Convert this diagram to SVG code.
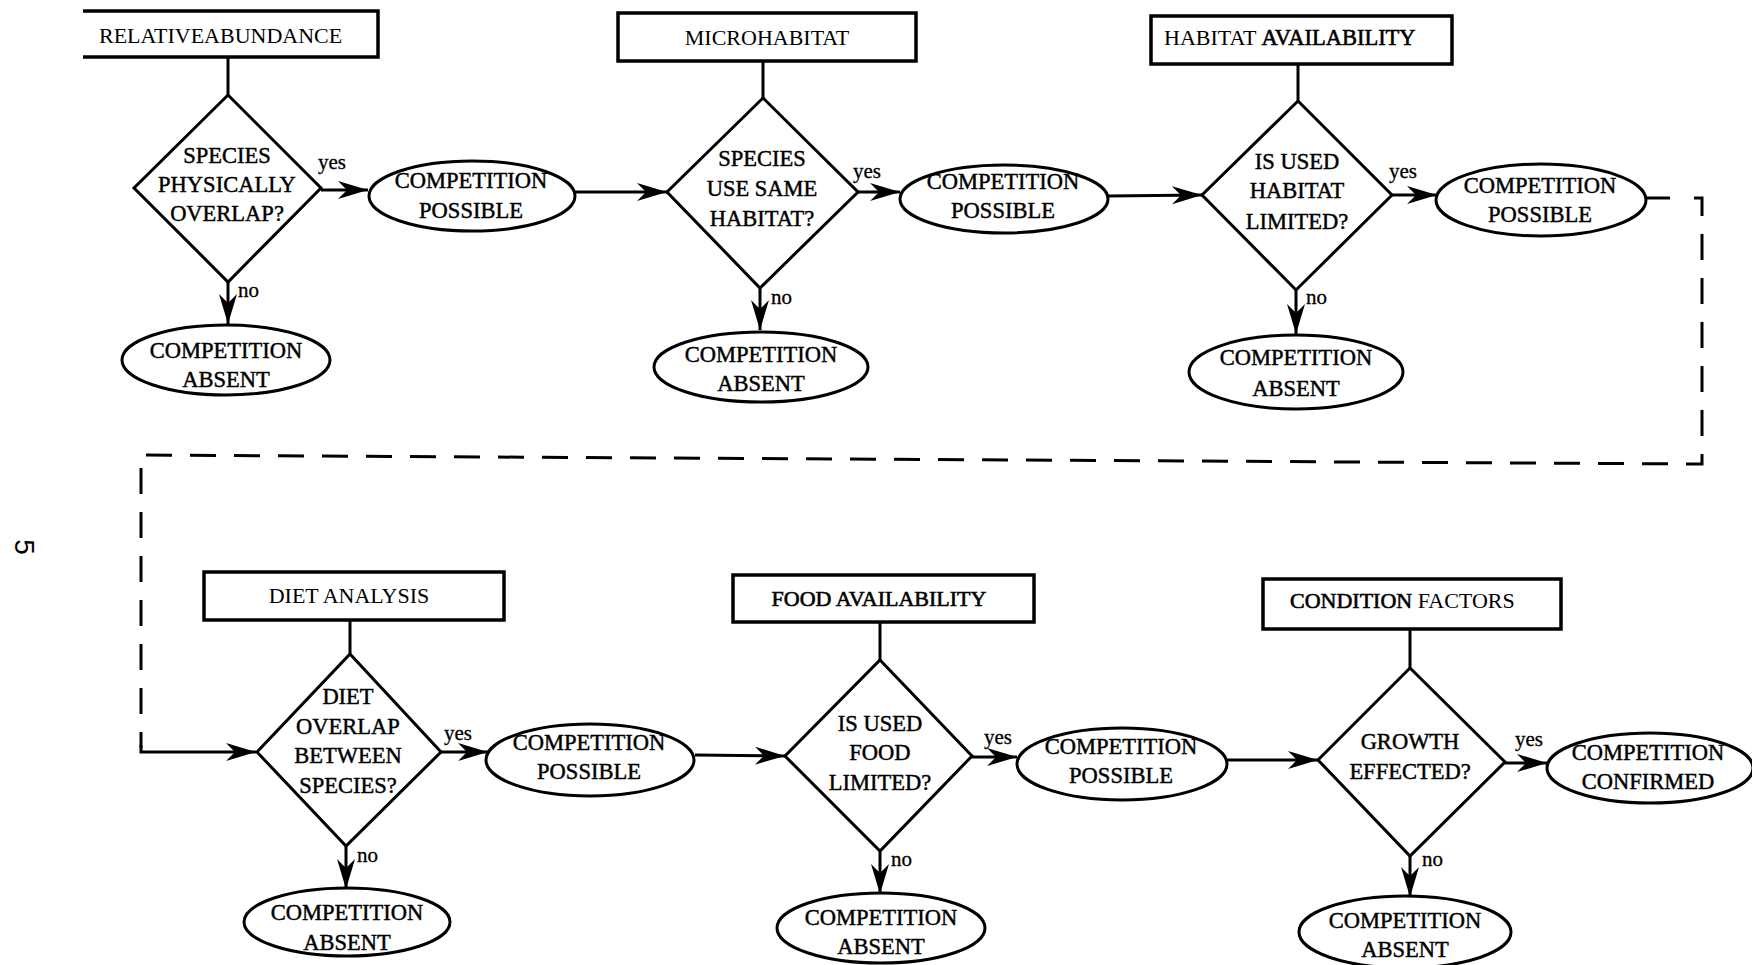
<svg xmlns="http://www.w3.org/2000/svg" width="1752" height="965" viewBox="0 0 1752 965">
<style>
.bg{fill:#fff}
.shape{fill:#fff;stroke:#000;stroke-width:3}
.box{fill:none;stroke:#000;stroke-width:3.5}
.ln{fill:none;stroke:#000;stroke-width:3}
.dash{fill:none;stroke:#000;stroke-width:3;stroke-dasharray:26 18}
.t{font-family:"Liberation Serif","Times New Roman",serif;font-size:22.5px;text-anchor:middle;fill:#000;stroke:#000;stroke-width:0.45}
.bt{font-family:"Liberation Serif","Times New Roman",serif;font-size:22px;fill:#000}
.hv{stroke:#000;stroke-width:0.6}
.lbl{font-family:"Liberation Serif","Times New Roman",serif;font-size:21px;fill:#000;stroke:#000;stroke-width:0.3}
</style>
<defs>
<marker id="ah" markerUnits="userSpaceOnUse" viewBox="-32 -10 34 20" markerWidth="34" markerHeight="20" refX="0" refY="0" orient="auto">
<path d="M0,0 L-30,-9 L-21,0 L-30,9 Z" fill="#000"/>
</marker>
</defs>
<rect class="bg" x="0" y="0" width="1752" height="965"/>

<g id="connectors">
<line class="ln" x1="228" y1="57" x2="228" y2="95"/>
<line class="ln" x1="321" y1="190" x2="368" y2="190" marker-end="url(#ah)"/>
<line class="ln" x1="575" y1="192" x2="667" y2="192" marker-end="url(#ah)"/>
<line class="ln" x1="228" y1="282" x2="228" y2="324" marker-end="url(#ah)"/>
<line class="ln" x1="763" y1="61" x2="763" y2="98"/>
<line class="ln" x1="858" y1="192" x2="900" y2="192" marker-end="url(#ah)"/>
<line class="ln" x1="1108" y1="196" x2="1202" y2="195" marker-end="url(#ah)"/>
<line class="ln" x1="760" y1="288" x2="760" y2="330" marker-end="url(#ah)"/>
<line class="ln" x1="1298" y1="64" x2="1298" y2="101"/>
<line class="ln" x1="1392" y1="195" x2="1437" y2="195" marker-end="url(#ah)"/>
<line class="ln" x1="1296" y1="290" x2="1296" y2="334" marker-end="url(#ah)"/>
<line class="ln" x1="1646" y1="198" x2="1670" y2="198"/>
<path class="dash" d="M1694,198 H1702 V464 L141,455 V748"/>
<path class="ln" d="M141,745 V752 H256" marker-end="url(#ah)"/>
<line class="ln" x1="350" y1="620" x2="350" y2="654"/>
<line class="ln" x1="441" y1="752" x2="488" y2="752" marker-end="url(#ah)"/>
<line class="ln" x1="695" y1="755" x2="785" y2="756" marker-end="url(#ah)"/>
<line class="ln" x1="346" y1="846" x2="346" y2="889" marker-end="url(#ah)"/>
<line class="ln" x1="880" y1="622" x2="880" y2="660"/>
<line class="ln" x1="972" y1="757" x2="1017" y2="757" marker-end="url(#ah)"/>
<line class="ln" x1="1227" y1="760" x2="1318" y2="760" marker-end="url(#ah)"/>
<line class="ln" x1="880" y1="851" x2="880" y2="894" marker-end="url(#ah)"/>
<line class="ln" x1="1410" y1="629" x2="1410" y2="668"/>
<line class="ln" x1="1505" y1="763" x2="1547" y2="763" marker-end="url(#ah)"/>
<line class="ln" x1="1410" y1="856" x2="1410" y2="897" marker-end="url(#ah)"/>
<text class="lbl" x="318" y="169">yes</text>
<text class="lbl" x="238" y="297">no</text>
<text class="lbl" x="853" y="178">yes</text>
<text class="lbl" x="771" y="304">no</text>
<text class="lbl" x="1389" y="178">yes</text>
<text class="lbl" x="1306" y="304">no</text>
<text class="lbl" x="444" y="740">yes</text>
<text class="lbl" x="357" y="862">no</text>
<text class="lbl" x="984" y="744">yes</text>
<text class="lbl" x="891" y="866">no</text>
<text class="lbl" x="1515" y="746">yes</text>
<text class="lbl" x="1422" y="866">no</text>
</g>

<g id="n-relative-abundance">
<path class="box" d="M83,11 H378 V57 H83"/>
<text class="bt" x="99" y="43">RELATIVEABUNDANCE</text>
</g>
<g id="d-physically-overlap">
<polygon class="shape" points="228,95 321,188 228,282 134,188"/>
<text class="t" x="227" y="163">SPECIES</text>
<text class="t" x="227" y="192">PHYSICALLY</text>
<text class="t" x="227" y="221">OVERLAP?</text>
</g>
<g id="e-possible-1">
<ellipse class="shape" cx="472" cy="196" rx="103" ry="35"/>
<text class="t" x="471" y="188">COMPETITION</text>
<text class="t" x="471" y="218">POSSIBLE</text>
</g>
<g id="e-absent-1">
<ellipse class="shape" cx="226" cy="360" rx="104" ry="35"/>
<text class="t" x="226" y="358">COMPETITION</text>
<text class="t" x="226" y="387">ABSENT</text>
</g>

<g id="n-microhabitat">
<rect class="box" x="618" y="13" width="298" height="48"/>
<text class="bt" x="767" y="45" text-anchor="middle">MICROHABITAT</text>
</g>
<g id="d-same-habitat">
<polygon class="shape" points="763,98 858,192 760,288 667,192"/>
<text class="t" x="762" y="166">SPECIES</text>
<text class="t" x="762" y="196">USE SAME</text>
<text class="t" x="762" y="226">HABITAT?</text>
</g>
<g id="e-possible-2">
<ellipse class="shape" cx="1004" cy="199" rx="104" ry="34"/>
<text class="t" x="1003" y="189">COMPETITION</text>
<text class="t" x="1003" y="218">POSSIBLE</text>
</g>
<g id="e-absent-2">
<ellipse class="shape" cx="761" cy="367" rx="107" ry="35"/>
<text class="t" x="761" y="362">COMPETITION</text>
<text class="t" x="761" y="391">ABSENT</text>
</g>

<g id="n-habitat-availability">
<rect class="box" x="1151" y="16" width="301" height="48"/>
<text class="bt" x="1164" y="45">HABITAT <tspan class="hv" font-size="22.5">AVAILABILITY</tspan></text>
</g>
<g id="d-habitat-limited">
<polygon class="shape" points="1298,101 1392,195 1296,290 1202,195"/>
<text class="t" x="1297" y="169">IS USED</text>
<text class="t" x="1297" y="198">HABITAT</text>
<text class="t" x="1297" y="229">LIMITED?</text>
</g>
<g id="e-possible-3">
<ellipse class="shape" cx="1541" cy="200" rx="105" ry="36"/>
<text class="t" x="1540" y="193">COMPETITION</text>
<text class="t" x="1540" y="222">POSSIBLE</text>
</g>
<g id="e-absent-3">
<ellipse class="shape" cx="1296" cy="372" rx="107" ry="37"/>
<text class="t" x="1296" y="365">COMPETITION</text>
<text class="t" x="1296" y="396">ABSENT</text>
</g>

<g id="n-diet-analysis">
<rect class="box" x="204" y="572" width="300" height="48"/>
<text class="bt" x="349" y="603" text-anchor="middle">DIET ANALYSIS</text>
</g>
<g id="d-diet-overlap">
<polygon class="shape" points="350,654 441,752 346,846 257,752"/>
<text class="t" x="348" y="704">DIET</text>
<text class="t" x="348" y="734">OVERLAP</text>
<text class="t" x="348" y="763">BETWEEN</text>
<text class="t" x="348" y="793">SPECIES?</text>
</g>
<g id="e-possible-4">
<ellipse class="shape" cx="590" cy="760" rx="104" ry="36"/>
<text class="t" x="589" y="750">COMPETITION</text>
<text class="t" x="589" y="779">POSSIBLE</text>
</g>
<g id="e-absent-4">
<ellipse class="shape" cx="347" cy="922" rx="103" ry="34"/>
<text class="t" x="347" y="920">COMPETITION</text>
<text class="t" x="347" y="950">ABSENT</text>
</g>

<g id="n-food-availability">
<rect class="box" x="733" y="575" width="301" height="47"/>
<text class="bt hv" x="879" y="606" text-anchor="middle" font-size="22.5">FOOD AVAILABILITY</text>
</g>
<g id="d-food-limited">
<polygon class="shape" points="880,660 972,756 880,851 785,756"/>
<text class="t" x="880" y="731">IS USED</text>
<text class="t" x="880" y="760">FOOD</text>
<text class="t" x="880" y="790">LIMITED?</text>
</g>
<g id="e-possible-5">
<ellipse class="shape" cx="1122" cy="764" rx="105" ry="36"/>
<text class="t" x="1121" y="754">COMPETITION</text>
<text class="t" x="1121" y="783">POSSIBLE</text>
</g>
<g id="e-absent-5">
<ellipse class="shape" cx="881" cy="928" rx="104" ry="35"/>
<text class="t" x="881" y="925">COMPETITION</text>
<text class="t" x="881" y="954">ABSENT</text>
</g>

<g id="n-condition-factors">
<rect class="box" x="1263" y="579" width="298" height="50"/>
<text class="bt" x="1290" y="608" font-size="22.5"><tspan class="hv">CONDITION</tspan> FACTORS</text>
</g>
<g id="d-growth">
<polygon class="shape" points="1410,668 1505,762 1410,856 1318,760"/>
<text class="t" x="1410" y="749">GROWTH</text>
<text class="t" x="1410" y="779">EFFECTED?</text>
</g>
<g id="e-confirmed">
<ellipse class="shape" cx="1650" cy="768" rx="103" ry="35"/>
<text class="t" x="1648" y="760">COMPETITION</text>
<text class="t" x="1648" y="789">CONFIRMED</text>
</g>
<g id="e-absent-6">
<ellipse class="shape" cx="1405" cy="932" rx="106" ry="36"/>
<text class="t" x="1405" y="928">COMPETITION</text>
<text class="t" x="1405" y="957">ABSENT</text>
</g>

<text x="24" y="547" font-family="Liberation Sans, Arial, sans-serif" font-size="28" text-anchor="middle" dominant-baseline="central" transform="rotate(90 24 547)">5</text>
</svg>
